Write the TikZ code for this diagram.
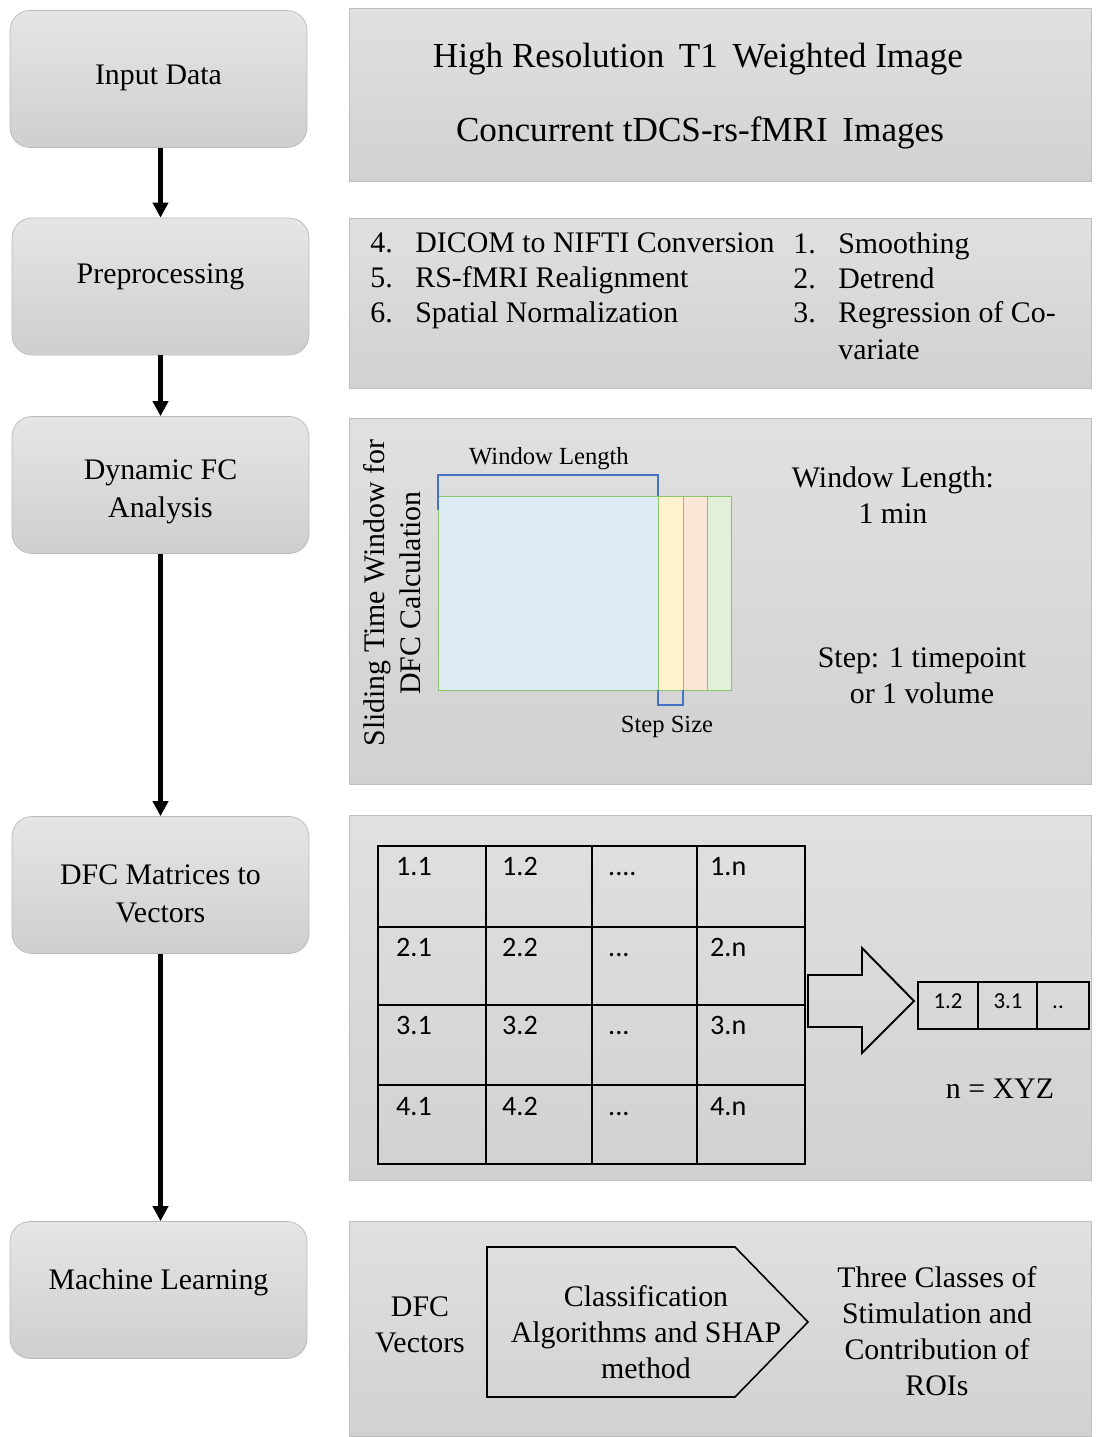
\documentclass[tikz,border=0pt]{standalone}
\usepackage{fontspec}
\setmainfont{Liberation Serif}
\newfontfamily\calfont{Carlito}
\usetikzlibrary{arrows.meta}
\newcommand\mytxt{\fontsize{17}{20.5}\selectfont}
\newcommand\smalltxt{\fontsize{14}{17}\selectfont}
\definecolor{wblue}{HTML}{4472C4}
\definecolor{wgreen}{HTML}{8CC46C}
\definecolor{winfill}{HTML}{DDEBF7}
\definecolor{s1fill}{HTML}{FFF2CC}
\definecolor{s2fill}{HTML}{FBE5D6}
\definecolor{s3fill}{HTML}{E2F0D9}
\tikzset{
  stage/.style = {draw=gray!55, rounded corners=0.4cm, top color=gray!20, bottom color=gray!38,
    minimum width=5.94cm, minimum height=2.74cm},
  panel/.style = {draw=gray!50, top color=gray!24, bottom color=gray!36, minimum width=14.84cm},
  flow/.style = {line width=2.6pt, -{Triangle[length=0.3cm, width=0.3cm]}},
  txt/.style = {align=center, font=\mytxt},
  stagetxt/.style = {align=center, font=\fontsize{17}{21.5}\selectfont},
  cell/.style = {anchor=base west, font=\calfont\fontsize{16}{18}\selectfont}
}
\begin{document}
\begin{tikzpicture}[x=0.02cm, y=-0.02cm]
      \useasboundingbox [fill=white] (0, 0) rectangle (1097, 1437);

      \node [stage] (input) at (158.5, 79) {};
      \node [stage] (prep) at (160.5, 286.5) {};
      \node [stage] (dyn) at (160.5, 485) {};
      \node [stage] (mat) at (160.5, 885) {};
      \node [stage] (ml) at (158.5, 1290) {};
      \node [stagetxt] (inputtxt) at (158.5, 78) {Input Data};
      \node [stagetxt] (preptxt) at (160.5, 277) {Preprocessing};
      \node [stagetxt] (dyntxt) at (160.5, 492) {Dynamic FC\\Analysis};
      \node [stagetxt] (mattxt) at (160.5, 894) {DFC Matrices to\\Vectors};
      \node [stagetxt] (mltxt) at (158.5, 1282) {Machine Learning};

      \draw [flow] (prep.north |- input.south) -- (prep.north);
      \draw [flow] (prep.south) -- (dyn.north);
      \draw [flow] (dyn.south) -- (mat.north);
      \draw [flow] (mat.south) -- (mat.south |- ml.north);

      \node [panel, minimum height=3.46cm] (p1) at (720, 94.5) {};
      \node [panel, minimum height=3.4cm] (p2) at (720, 303) {};
      \node [panel, minimum height=7.32cm] (p3) at (720, 601) {};
      \node [panel, minimum height=7.3cm] (p4) at (720, 997.5) {};
      \node [panel, minimum height=4.3cm] (p5) at (720, 1328.5) {};

      \node [font=\fontsize{20}{24}\selectfont] (t1) at (698, 59) {High Resolution\, T1\, Weighted Image};
      \node [font=\fontsize{20}{24}\selectfont] (rs) at (700, 133) {Concurrent tDCS-rs-fMRI\, Images};

      \foreach \n/\t [count=\i] in {4/DICOM to NIFTI Conversion, 5/RS-fMRI Realignment, 6/Spatial Normalization} {
        \node [anchor=base west, font=\mytxt, inner sep=0] (ln\i) at (370, 217+35*\i) {\n.};
        \node [anchor=base west, font=\mytxt, inner sep=0] (lt\i) at (415, 217+35*\i) {\t};
      }
      \foreach \n/\t [count=\i] in {1/Smoothing, 2/Detrend, 3/Regression of Co-} {
        \node [anchor=base west, font=\mytxt, inner sep=0] (rn\i) at (793, 219+34.5*\i) {\n.};
        \node [anchor=base west, font=\mytxt, inner sep=0] (rt\i) at (838, 219+34.5*\i) {\t};
      }
      \node [anchor=base west, font=\mytxt, inner sep=0] (rt4) at (838, 359) {variate};

      \node [txt, rotate=90] (slide) at (392, 593) {Sliding Time Window for\\DFC Calculation};
      \draw [wgreen, fill=winfill] (438, 496) rectangle (658, 690);
      \draw [wgreen, fill=s1fill] (658, 496) rectangle (683, 690);
      \draw [wgreen, fill=s2fill] (683, 496) rectangle (707, 690);
      \draw [wgreen, fill=s3fill] (707, 496) rectangle (731, 690);
      \draw [wblue, thick] (438, 510) -- (438, 475) -- (658, 475) -- (658, 496);
      \draw [wblue, thick] (658, 690) -- (658, 705) -- (683, 705) -- (683, 690);
      \node [font=\smalltxt] (wl) at (549, 459) {Window Length};
      \node [font=\smalltxt] (ss) at (667, 727) {Step Size};
      \node [txt] (wlen) at (893, 495) {Window Length:\\1 min};
      \node [txt] (step) at (922, 676) {Step: 1 timepoint\\or 1 volume};

      \draw [line width=1.1pt] (378, 846) rectangle (805, 1164);
      \foreach \x in {486, 592, 697} \draw [line width=1.1pt] (\x, 846) -- (\x, 1164);
      \foreach \y in {927, 1005, 1085} \draw [line width=1.1pt] (378, \y) -- (805, \y);
      \foreach \r/\y in {1/875, 2/956, 3/1034, 4/1115} {
        \node [cell] (c\r a) at (390, \y) {\r.1};
        \node [cell] (c\r b) at (496, \y) {\r.2};
        \node [cell] (c\r d) at (704, \y) {\r.n};
      }
      \node [cell] (c1c) at (602, 875) {....};
      \foreach \r/\y in {2/956, 3/1034, 4/1115} \node [cell] (c\r c) at (602, \y) {...};

      \draw [line width=1.1pt] (808, 975) -- (862, 975) -- (862, 948) -- (914, 1001) -- (862, 1053) -- (862, 1027) -- (808, 1027) -- cycle;
      \draw [line width=1.1pt] (918, 982) rectangle (1089, 1029);
      \draw [line width=1.1pt] (978, 982) -- (978, 1029) (1037, 982) -- (1037, 1029);
      \node [font=\calfont\fontsize{13}{15}\selectfont] (v1) at (948, 1001) {1.2};
      \node [font=\calfont\fontsize{13}{15}\selectfont] (v2) at (1008, 1001) {3.1};
      \node [font=\calfont\fontsize{13}{15}\selectfont, anchor=base] (v3) at (1058, 1008) {..};
      \node [font=\mytxt] (nxyz) at (1000, 1089) {n = XYZ};

      \node [txt] (vec) at (420, 1325) {DFC\\Vectors};
      \draw [line width=0.9pt] (487, 1247) -- (735, 1247) -- (808, 1322) -- (735, 1397) -- (487, 1397) -- cycle;
      \node [txt] (clf) at (646, 1332) {Classification\\Algorithms and SHAP\\method};
      \node [txt] (out) at (937, 1331) {Three Classes of\\Stimulation and\\Contribution of\\ROIs};
    \end{tikzpicture}
\end{document}
